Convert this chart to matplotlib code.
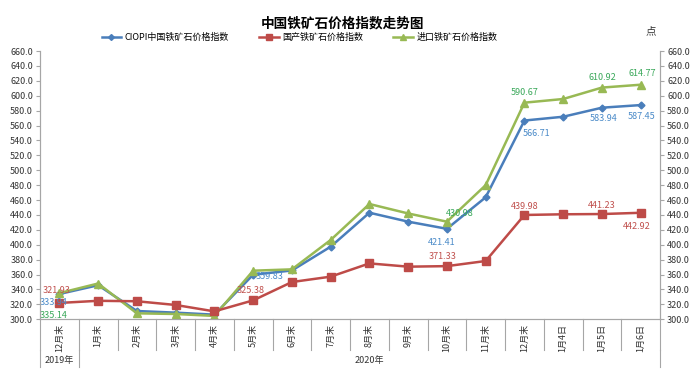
import matplotlib
matplotlib.use("Agg")
import matplotlib.pyplot as plt
import matplotlib.transforms as mtransforms
import numpy as np
from matplotlib.lines import Line2D

plt.rcParams["font.family"] = ["Noto Sans CJK SC", "DejaVu Sans"]

# ── data ────────────────────────────────────────────────────────────────
categories = ["12月末", "1月末", "2月末", "3月末", "4月末", "5月末", "6月末", "7月末",
              "8月末", "9月末", "10月末", "11月末", "12月末", "1月4日", "1月5日", "1月6日"]
years = ["2019年", "2020年"]
year_span = [(0, 0), (1, 15)]          # category index range covered by each year

ciopi = [333.94, 345.7, 311.1, 308.9, 306.2, 359.83, 365.5, 397.4,
         443.0, 431.0, 421.41, 463.7, 566.71, 571.8, 583.94, 587.45]
domestic = [321.93, 324.8, 324.2, 319.2, 310.6, 325.38, 350.0, 357.2,
            375.0, 370.6, 371.33, 378.2, 439.98, 440.9, 441.23, 442.92]
imported = [335.14, 348.0, 308.0, 307.1, 304.5, 365.2, 367.0, 406.4,
            454.7, 442.0, 430.98, 480.0, 590.67, 595.6, 610.92, 614.77]

names = ["CIOPI中国铁矿石价格指数", "国产铁矿石价格指数", "进口铁矿石价格指数"]
labelled = {0: [0, 5, 10, 12, 14, 15], 1: [0, 5, 10, 12, 14, 15], 2: [0, 10, 12, 14, 15]}

# ── style ───────────────────────────────────────────────────────────────
line_colors = ["#4a7ebb", "#be4b48", "#98b954"]
text_colors = ["#4a8ac8", "#c0504d", "#3aa85a"]
markers = ["D", "s", "^"]
msizes = [3.5, 5.5, 5.5]
# label offsets (points) per series/index
offsets = {
    (0, 0): (-4, -6), (0, 5): (12, -1), (0, 10): (-4, -10), (0, 12): (9, -9),
    (0, 14): (1, -8), (0, 15): (1, -8),
    (1, 0): (-2, 9), (1, 5): (-2, 7), (1, 10): (-3, 7), (1, 12): (0, 6),
    (1, 14): (0, 6), (1, 15): (-3, -10),
    (2, 0): (-4, -16), (2, 10): (9, 6), (2, 12): (0, 7), (2, 14): (0, 7), (2, 15): (1, 8),
}

fig = plt.figure(figsize=(6.97, 3.71), dpi=100)
ax = fig.add_axes([0.0574, 0.1394, 0.8896, 0.7231])
x = np.arange(len(categories))

series = [ciopi, domestic, imported]
for k, vals in enumerate(series):
    ax.plot(x, vals, color=line_colors[k], lw=1.8, marker=markers[k], ms=msizes[k],
            mfc=line_colors[k], mec=line_colors[k], zorder=3 + (k == 1))
    for i in labelled[k]:
        dx, dy = offsets[(k, i)]
        ax.annotate(f"{vals[i]:.2f}", (x[i], vals[i]), xytext=(dx, dy),
                    textcoords="offset points", ha="center", va="center",
                    fontsize=6.5, color=text_colors[k], zorder=5)

ax.set_xlim(-0.5, len(categories) - 0.5)
ax.set_ylim(300, 660)
yt = np.arange(300, 661, 20)
ax.set_yticks(yt)
ax.set_yticklabels([f"{v:.1f}" for v in yt])
ax.set_xticks([])

ax2 = ax.twinx()
ax2.set_ylim(300, 660)
ax2.set_yticks(yt)
ax2.set_yticklabels([f"{v:.1f}" for v in yt])

axis_gray = "#a6a6a6"
for a in (ax, ax2):
    for s in a.spines.values():
        s.set_color(axis_gray)
        s.set_linewidth(0.8)
    a.spines["top"].set_visible(False)
    a.tick_params(axis="y", length=3, width=0.8, color=axis_gray,
                  labelsize=6.5, labelcolor="#333333", pad=2)

# category table under the axis
trans = mtransforms.blended_transform_factory(ax.transData, ax.transAxes)
row1 = -0.114
row2 = -0.178
for b in np.arange(-0.5, len(categories), 1.0):
    ax.plot([b, b], [0, row1], color=axis_gray, lw=0.8, transform=trans, clip_on=False)
for lo, hi in year_span:
    ax.plot([hi + 0.5, hi + 0.5], [row1, row2], color=axis_gray, lw=0.8,
            transform=trans, clip_on=False)
ax.plot([-0.5, -0.5], [row1, row2], color=axis_gray, lw=0.8, transform=trans, clip_on=False)
for i, c in enumerate(categories):
    ax.text(i, -0.017, c, rotation=90, ha="center", va="top", fontsize=6.5,
            color="#333333", transform=trans)
for (lo, hi), yname in zip(year_span, years):
    ax.text((lo + hi) / 2, -0.153, yname, ha="center", va="center", fontsize=6.5,
            color="#333333", transform=trans)

# title, legend, unit
fig.text(0.492, 0.938, "中国铁矿石价格指数走势图", ha="center", va="center",
         fontsize=9.8, fontweight="bold")
handles = [Line2D([], [], color=line_colors[k], lw=1.8, marker=markers[k], ms=msizes[k] - 0.5)
           for k in range(3)]
fig.legend(handles, names, loc="center", bbox_to_anchor=(0.43, 0.9), ncol=3, frameon=False,
           fontsize=6.5, handlelength=2.2, columnspacing=3.3, handletextpad=0.4)
fig.text(0.933, 0.916, "点", ha="center", va="center", fontsize=7.5, color="#333333")

fig.savefig("out.png", dpi=100)
